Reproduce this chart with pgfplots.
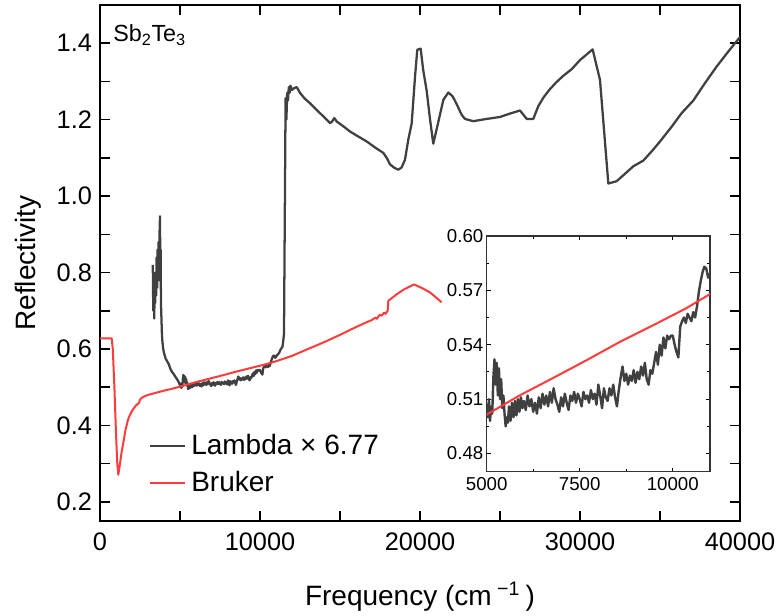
\documentclass[border=0pt]{standalone}
\usepackage{fontspec}
\setmainfont{Liberation Sans}
\usepackage{pgfplots}
\usepackage{pgfplotstable}
\pgfplotsset{compat=1.18}
\definecolor{lgray}{HTML}{404040}
\definecolor{bred}{HTML}{FF3B3B}

\pgfplotstableread{
x y
3300 0.82
3330 0.70
3360 0.80
3390 0.68
3420 0.78
3450 0.72
3480 0.80
3510 0.74
3540 0.84
3570 0.76
3600 0.86
3630 0.80
3660 0.88
3690 0.78
3720 0.90
3750 0.947
3770 0.80
3790 0.86
3810 0.72
3840 0.68
3870 0.64
3900 0.62
3950 0.60
4000 0.59
4100 0.575
4200 0.568
4300 0.560
4400 0.548
4500 0.540
4600 0.535
4700 0.528
4800 0.522
4900 0.515
5000 0.505
5030 0.500
5060 0.510
5090 0.498
5120 0.506
5150 0.502
5180 0.522
5210 0.532
5240 0.518
5270 0.530
5300 0.512
5330 0.527
5360 0.510
5390 0.521
5420 0.505
5450 0.512
5480 0.502
5510 0.495
5540 0.500
5570 0.497
5600 0.506
5640 0.498
5680 0.508
5720 0.500
5760 0.509
5800 0.501
5840 0.510
5880 0.503
5920 0.511
5960 0.505
6000 0.509
6050 0.504
6100 0.512
6150 0.506
6200 0.510
6250 0.503
6300 0.508
6350 0.502
6400 0.511
6450 0.505
6500 0.513
6550 0.507
6600 0.512
6650 0.506
6700 0.514
6750 0.508
6800 0.516
6850 0.510
6900 0.507
6950 0.503
7000 0.511
7050 0.506
7100 0.513
7150 0.508
7200 0.504
7250 0.512
7300 0.509
7350 0.514
7400 0.508
7450 0.513
7500 0.510
7550 0.506
7600 0.514
7650 0.510
7700 0.512
7750 0.508
7800 0.515
7850 0.510
7900 0.513
7950 0.507
8000 0.518
8050 0.512
8100 0.505
8150 0.516
8200 0.511
8250 0.509
8300 0.516
8350 0.512
8400 0.518
8450 0.511
8500 0.506
8550 0.515
8600 0.522
8650 0.528
8700 0.520
8750 0.524
8800 0.518
8850 0.523
8900 0.520
8950 0.526
9000 0.519
9050 0.525
9100 0.521
9150 0.528
9200 0.523
9250 0.530
9300 0.521
9350 0.518
9400 0.526
9450 0.524
9500 0.530
9550 0.536
9600 0.529
9650 0.540
9700 0.534
9750 0.544
9800 0.538
9850 0.545
9900 0.543
9950 0.545
10000 0.545
10050 0.540
10100 0.536
10150 0.533
10200 0.550
10250 0.553
10300 0.555
10350 0.552
10400 0.557
10450 0.555
10500 0.553
10550 0.558
10600 0.555
10650 0.561
10700 0.569
10750 0.575
10800 0.580
10850 0.583
10900 0.582
10950 0.577
11000 0.579
11050 0.583
11100 0.585
11200 0.590
11300 0.600
11400 0.605
11450 0.620
11500 0.640
11550 0.950
11600 1.256
11650 1.200
11700 1.270
11750 1.250
11800 1.285
11850 1.270
11900 1.289
12000 1.278
12150 1.283
12300 1.285
12500 1.270
12800 1.255
13125 1.243
13500 1.227
14000 1.207
14375 1.191
14500 1.195
14645 1.204
14800 1.195
15200 1.183
15625 1.169
16100 1.157
16670 1.143
17200 1.127
17710 1.113
17950 1.098
18125 1.083
18400 1.074
18645 1.069
18850 1.075
19060 1.095
19270 1.148
19480 1.190
19690 1.313
19830 1.383
20040 1.386
20200 1.330
20420 1.275
20630 1.200
20830 1.137
21150 1.195
21460 1.252
21770 1.271
22040 1.261
22300 1.240
22600 1.213
22810 1.202
23330 1.196
24170 1.202
25000 1.207
25625 1.216
26250 1.224
26670 1.202
27080 1.202
27400 1.236
27750 1.260
28125 1.280
28500 1.297
28960 1.315
29480 1.332
30000 1.356
30400 1.370
30790 1.384
31250 1.304
31770 1.033
32290 1.039
32800 1.058
33330 1.078
33960 1.093
34500 1.118
35000 1.143
35700 1.180
36350 1.217
37080 1.250
37800 1.295
38540 1.339
39300 1.380
40000 1.416
40300 1.430
}\lambdatab

\pgfplotstableread{
x y
0 0.628
730 0.628
800 0.600
900 0.500
1000 0.380
1080 0.300
1145 0.271
1250 0.300
1350 0.330
1460 0.355
1600 0.390
1750 0.415
1875 0.428
2000 0.438
2200 0.450
2400 0.458
2450 0.460
2500 0.468
2600 0.472
2810 0.477
3100 0.481
3540 0.486
4000 0.491
4500 0.496
5000 0.5015
5874 0.5119
6769 0.5215
7661 0.5312
8554 0.5413
9449 0.5505
10351 0.5600
11000 0.5679
12000 0.582
13000 0.600
13960 0.617
15000 0.637
15830 0.654
16500 0.667
17000 0.676
17200 0.682
17300 0.679
17400 0.685
17500 0.690
17600 0.687
17750 0.695
17850 0.692
17920 0.697
17980 0.700
18020 0.726
18540 0.743
19000 0.756
19625 0.769
20100 0.760
20625 0.748
21000 0.735
21350 0.722
}\brukertab

\begin{document}
\begin{tikzpicture}
\useasboundingbox (-75pt,-70.5pt) rectangle (511.5pt,390.75pt);
\begin{axis}[
  anchor=south west, at={(0pt,0pt)},
  scale only axis, width=480pt, height=387pt,
  xmin=0, xmax=40000, ymin=0.15, ymax=1.5,
  scaled x ticks=false, scaled y ticks=false,
  xtick={0,10000,20000,30000,40000}, minor x tick num=1,
  ytick={0.2,0.4,0.6,0.8,1.0,1.2,1.4}, minor y tick num=1,
  tick align=inside, major tick length=7.5pt, minor tick length=7.5pt,
  every tick/.style={black, line width=1.2pt},
  axis line style={black, line width=1.5pt},
  /pgf/number format/assume math mode=true,
  tick label style={font=\fontsize{19}{23}\selectfont},
  xticklabel style={yshift=-5pt, /pgf/number format/set thousands separator={}},
  yticklabel style={xshift=-2.5pt, /pgf/number format/fixed, /pgf/number format/fixed zerofill, /pgf/number format/precision=1},
  xlabel={Frequency (cm\textsuperscript{ −1 })},
  ylabel={Reflectivity},
  every axis x label/.style={at={(axis description cs:0.5,-0.147)}, anchor=center, font=\fontsize{21}{25}\selectfont},
  every axis y label/.style={at={(axis description cs:-0.1125,0.5)}, rotate=90, anchor=center, font=\fontsize{21}{25}\selectfont},
  legend style={at={(axis description cs:0.0766,0.176)}, anchor=north west, draw=none, fill=none,
    inner sep=0pt, font=\fontsize{21}{25}\selectfont, row sep=3.75pt, column sep=2pt,
    nodes={inner sep=2pt, text height=16pt, text depth=4pt}},
  legend cell align=left,
  legend image code/.code={\draw[#1] (0pt,0pt) -- (26pt,0pt);},
  legend image post style={line width=1.5pt},
]
\addplot[lgray, line width=1.7pt, line join=round] table[x=x,y=y] {\lambdatab};
\addlegendentry{Lambda × 6.77}
\addplot[bred, line width=1.5pt, line join=round] table[x=x,y=y] {\brukertab};
\addlegendentry{Bruker}
\node[anchor=base west, inner sep=0pt, font=\fontsize{17.5}{20}\selectfont] at (rel axis cs:0.0203,0.929) {Sb\textsubscript{2}Te\textsubscript{3}};
\end{axis}

\begin{axis}[
  anchor=south west, at={(290pt,37pt)},
  scale only axis, width=167.5pt, height=176.8pt,
  xmin=5000, xmax=11000, ymin=0.47, ymax=0.60,
  scaled x ticks=false, scaled y ticks=false,
  xtick={5000,7500,10000}, minor x tick num=1,
  ytick={0.48,0.51,0.54,0.57,0.60}, minor y tick num=1,
  tick align=inside, major tick length=3pt, minor tick length=2pt,
  every tick/.style={black, line width=0.8pt},
  axis line style={draw=black!80, line width=1pt},
  axis background/.style={fill=white},
  /pgf/number format/assume math mode=true,
  tick label style={font=\fontsize{14}{17}\selectfont},
  xticklabel style={yshift=-1pt, /pgf/number format/set thousands separator={}},
  yticklabel style={xshift=1pt, /pgf/number format/fixed, /pgf/number format/fixed zerofill, /pgf/number format/precision=2},
]
\addplot[lgray, line width=1.8pt, line join=round] table[x=x,y=y] {\lambdatab};
\addplot[bred, line width=1.5pt, line join=round] table[x=x,y=y] {\brukertab};
\end{axis}
\end{tikzpicture}
\end{document}
